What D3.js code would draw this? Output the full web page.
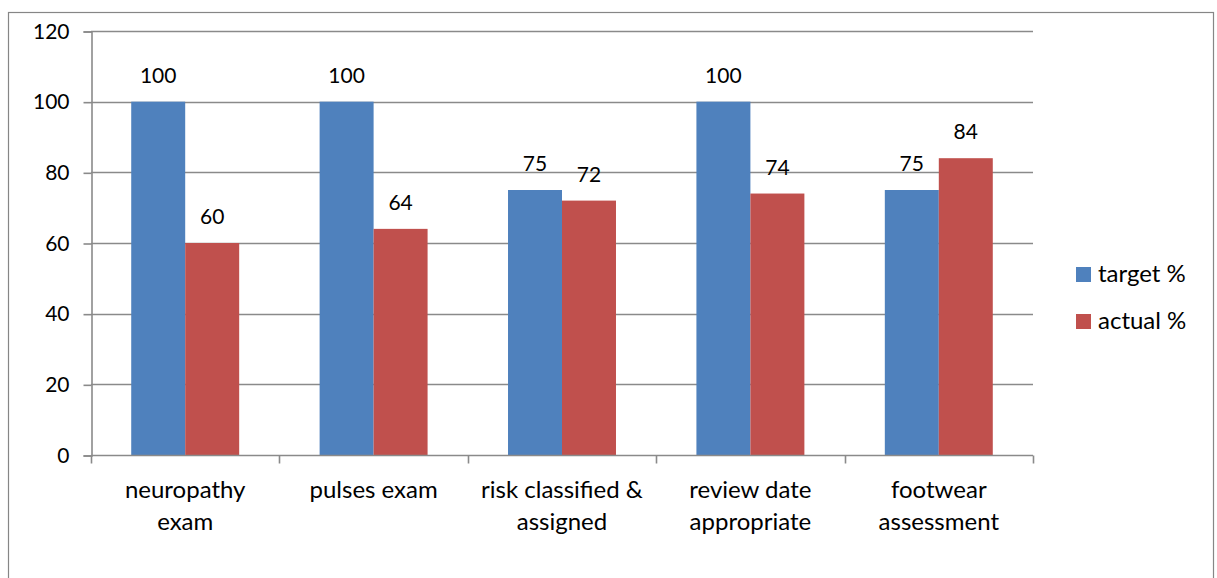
<!DOCTYPE html>
<html>
<head>
<meta charset="utf-8">
<script src="https://cdn.jsdelivr.net/npm/d3@7"></script>
<style>
  html, body { margin: 0; padding: 0; background: #fff; }
  svg { display: block; }
  text { font-family: Lato, "Open Sans", sans-serif; fill: #000; }
</style>
</head>
<body>
<svg id="chart" width="1217" height="578"></svg>
<script>
const categories = [
  ["neuropathy", "exam"],
  ["pulses exam"],
  ["risk classified &", "assigned"],
  ["review date", "appropriate"],
  ["footwear", "assessment"]
];
const seriesNames = ["target %", "actual %"];
const targetValues = [100, 100, 75, 100, 75];
const actualValues = [60, 64, 72, 74, 84];
const yTicks = [0, 20, 40, 60, 80, 100, 120];
const colors = ["#4F81BD", "#C0504D"];

const svg = d3.select("#chart");
const numSize = 21, textSize = 24;

// outer frame
svg.append("rect")
  .attr("x", 8.5).attr("y", 12.5)
  .attr("width", 1205).attr("height", 600)
  .attr("fill", "none").attr("stroke", "#868686").attr("stroke-width", 1.2);

const plot = { left: 91, right: 1033, top: 31, bottom: 455 };

const x0 = d3.scaleBand()
  .domain(d3.range(categories.length))
  .range([plot.left, plot.right])
  .paddingInner(0).paddingOuter(0);

const x1 = d3.scaleBand()
  .domain([0, 1])
  .range([0, x0.bandwidth()])
  .paddingInner(0)
  .paddingOuter(0.745);

const y = d3.scaleLinear().domain([0, 120]).range([plot.bottom, plot.top]);

// horizontal gridlines
svg.append("g")
  .selectAll("line")
  .data(yTicks.filter(d => d > 0))
  .join("line")
  .attr("x1", plot.left).attr("x2", plot.right)
  .attr("y1", d => Math.round(y(d)) + 0.5).attr("y2", d => Math.round(y(d)) + 0.5)
  .attr("stroke", "#8a8a8a").attr("stroke-width", 1.6);

// y axis
const yAxis = d3.axisLeft(y).tickValues(yTicks).tickSize(8).tickPadding(14);
const gy = svg.append("g").attr("transform", `translate(${plot.left + 0.5},0.5)`).call(yAxis);
gy.select(".domain").attr("stroke", "#8a8a8a").attr("stroke-width", 1.6);
gy.selectAll(".tick line").attr("stroke", "#8a8a8a").attr("stroke-width", 1.6);
gy.selectAll(".tick text").attr("font-size", numSize).attr("fill", "#000")
  .style("font-family", "Lato, 'Open Sans', sans-serif");

// bars
const rows = categories.map((c, i) => [targetValues[i], actualValues[i]]);
const groups = svg.append("g").selectAll("g")
  .data(rows)
  .join("g")
  .attr("transform", (d, i) => `translate(${x0(i)},0)`);

groups.selectAll("rect")
  .data(d => d.map((v, s) => ({ v, s })))
  .join("rect")
  .attr("x", d => x1(d.s))
  .attr("width", x1.bandwidth())
  .attr("y", d => y(d.v))
  .attr("height", d => y(0) - y(d.v))
  .attr("fill", d => colors[d.s]);

// value labels
groups.selectAll("text.val")
  .data(d => d.map((v, s) => ({ v, s })))
  .join("text")
  .attr("class", "val")
  .attr("x", d => x1(d.s) + x1.bandwidth() / 2)
  .attr("y", d => y(d.v) - 19)
  .attr("text-anchor", "middle")
  .attr("font-size", numSize)
  .text(d => d.v);

// x axis
const xAxisG = svg.append("g").attr("transform", `translate(0,${plot.bottom + 0.5})`);
xAxisG.append("line")
  .attr("x1", plot.left).attr("x2", plot.right)
  .attr("stroke", "#8a8a8a").attr("stroke-width", 1.6);
const boundaries = d3.range(categories.length + 1).map(i =>
  i < categories.length ? x0(i) : x0(categories.length - 1) + x0.bandwidth());
xAxisG.selectAll("line.tick")
  .data(boundaries)
  .join("line")
  .attr("class", "tick")
  .attr("x1", d => Math.round(d) + 0.5).attr("x2", d => Math.round(d) + 0.5)
  .attr("y1", 0).attr("y2", 8)
  .attr("stroke", "#8a8a8a").attr("stroke-width", 1.6);

xAxisG.selectAll("text.cat")
  .data(categories)
  .join("text")
  .attr("class", "cat")
  .attr("text-anchor", "middle")
  .attr("font-size", textSize)
  .attr("transform", (d, i) => `translate(${x0(i) + x0.bandwidth() / 2},0)`)
  .each(function (lines) {
    const t = d3.select(this);
    lines.forEach((ln, k) => {
      t.append("tspan").attr("x", 0).attr("y", 42 + k * 32).text(ln);
    });
  });

// legend
const legend = svg.append("g").attr("transform", "translate(1076,267)");
seriesNames.forEach((name, i) => {
  const g = legend.append("g").attr("transform", `translate(0,${i * 47})`);
  g.append("rect").attr("width", 15).attr("height", 15).attr("fill", colors[i]);
  g.append("text").attr("x", 22).attr("y", 15).attr("font-size", textSize).text(name);
});
</script>
</body>
</html>
